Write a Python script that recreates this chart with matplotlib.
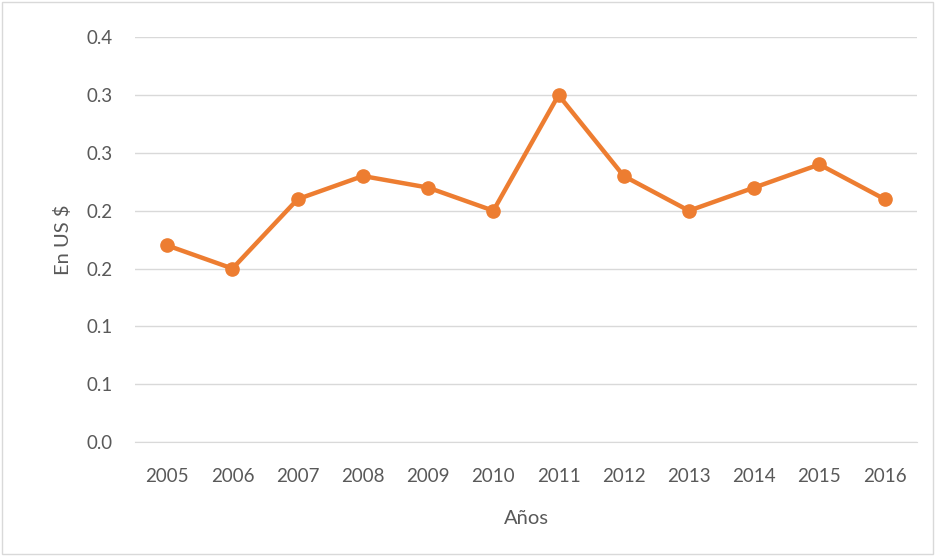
import matplotlib.pyplot as plt
from matplotlib.patches import Rectangle

plt.rcParams['font.family'] = ['Lato', 'DejaVu Sans']

years = ['2005', '2006', '2007', '2008', '2009', '2010',
         '2011', '2012', '2013', '2014', '2015', '2016']
values = [0.17, 0.15, 0.21, 0.23, 0.22, 0.20,
          0.30, 0.23, 0.20, 0.22, 0.24, 0.21]
y_ticks = [0.0, 0.05, 0.10, 0.15, 0.20, 0.25, 0.30, 0.35]
y_tick_labels = ['0.0', '0.1', '0.1', '0.2', '0.2', '0.3', '0.3', '0.4']

grey = '#595959'
fig = plt.figure(figsize=(9.35, 5.56), dpi=100)
ax = fig.add_axes([0.144, 0.205, 0.837, 0.728])

x = list(range(len(years)))
ax.plot(x, values, color='#ED7D31', linewidth=3.2, marker='o',
        markersize=9.5, zorder=3)

ax.set_xlim(-0.5, len(years) - 0.5)
ax.set_ylim(0, 0.35)
ax.set_yticks(y_ticks)
ax.set_yticklabels(y_tick_labels)
ax.set_xticks(x)
ax.set_xticklabels(years)
ax.grid(axis='y', color='#D9D9D9', linewidth=1)
ax.set_axisbelow(True)
for s in ['top', 'right', 'left']:
    ax.spines[s].set_visible(False)
ax.spines['bottom'].set_color('#D9D9D9')
ax.tick_params(length=0, labelsize=13.5, colors=grey)
ax.tick_params(axis='x', pad=19)
ax.tick_params(axis='y', pad=16)

ax.set_xlabel('Años', fontsize=14.5, color=grey, labelpad=18)
ax.set_ylabel('En US $', fontsize=14.5, color=grey, labelpad=10)

fig.patches.append(Rectangle((0.002, 0.003), 0.996, 0.994, transform=fig.transFigure,
                             fill=False, edgecolor='#D9D9D9', linewidth=1))

fig.savefig('out.png', dpi=100)
